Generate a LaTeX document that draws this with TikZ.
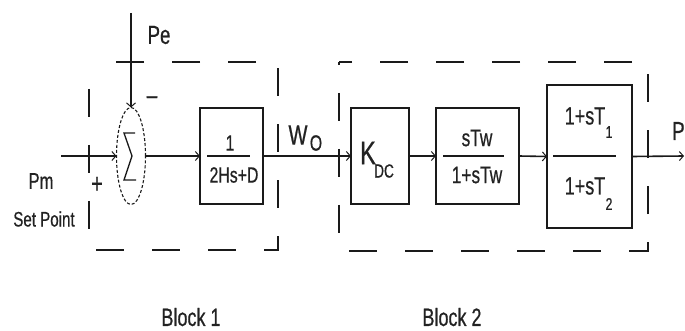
\documentclass[tikz,border=0pt]{standalone}
\usepackage{fontspec}
\setmainfont{Liberation Sans}[FakeStretch=0.72,FakeBold=0.6]
\usetikzlibrary{arrows.meta,shapes.geometric}
\definecolor{ink}{HTML}{1A1A1A}
\definecolor{txt}{HTML}{222222}
\newcommand{\fs}[1]{\fontsize{#1}{#1}\selectfont}
\tikzset{
 blk/.style={draw=ink,line width=1.7pt,inner sep=0pt,outer sep=0pt,rectangle},
 arr/.style={draw=ink,line width=1.6pt,-{Straight Barb[length=4pt,width=9pt,line width=1pt]}},
 fracbar/.style={draw=ink,line width=1.6pt},
 dbox/.style={draw=ink,line width=1.8pt,dash pattern=on 28pt off 28pt},
 lbl/.style={text=txt,inner sep=0pt},
}
\begin{document}
\begin{tikzpicture}[x=1pt,y=-1pt]
\useasboundingbox (0,0) rectangle (685,331);
% dashed frames
\draw[dbox,dash phase=29pt] (89,62) rectangle (278,250);
\draw[dbox,dash phase=25pt] (339,62) rectangle (648,251);
% summing junction
\node[draw=ink,densely dashed,line width=1.1pt,ellipse,minimum width=29pt,minimum height=97pt,inner sep=0pt,outer sep=0pt] (sum) at (131,156) {};
\draw[ink,line width=1.3pt] (135,133)--(124,133)--(132,156)--(124,180)--(136,180);
% blocks
\node[blk,minimum width=63pt,minimum height=96pt] (b1) at (231.5,156) {};
\node[blk,minimum width=58pt,minimum height=96pt] (kdc) at (380,156) {};
\node[blk,minimum width=83pt,minimum height=96pt] (stw) at (477.5,156) {};
\node[blk,minimum width=85pt,minimum height=143pt] (ll) at (589.5,156.5) {};
% block texts
\node[lbl,font=\fs{22}] (b1n) at (230,143) {1};
\node[lbl,font=\fs{22}] (b1d) at (234,175) {2Hs+D};
\draw[fracbar] (207,156) -- (250,156);
\node[lbl,font=\fs{33}] (kk) at (368,153) {K};
\node[lbl,font=\fs{19}] (kdcsub) at (384,171) {DC};
\node[lbl,font=\fs{24}] (stwn) at (477,138) {sTw};
\node[lbl,font=\fs{24}] (stwd) at (477,175) {1+sTw};
\draw[fracbar] (443,156) -- (504,156);
\node[lbl,font=\fs{25}] (lln) at (585,116) {1+sT};
\node[lbl,font=\fs{17}] (lln1) at (609,132) {1};
\node[lbl,font=\fs{25}] (lld) at (585,186) {1+sT};
\node[lbl,font=\fs{17}] (lld2) at (609,204) {2};
\draw[fracbar] (553,156) -- (616,156);
% connectors
\coordinate (pin) at (61,156);
\coordinate (petop) at (131,13);
\coordinate (pout) at (684,156);
\draw[arr] (petop) -- (sum.north);
\draw[arr] (pin) -- (sum.west);
\draw[arr] (sum.east) -- (b1.west);
\draw[arr] (b1.east) -- (kdc.west);
\draw[arr] (kdc.east) -- (stw.west);
\draw[arr] (stw.east) -- (ll.west);
\draw[arr] (ll.east) -- (pout);
% labels
\node[lbl,font=\fs{26}] (pe) at (159,35) {Pe};
\node[lbl,font=\fs{26}] (minus) at (152,100) {–};
\node[lbl,font=\fs{28}] (plus) at (97,185) {+};
\node[lbl,font=\fs{23}] (pm) at (41,181) {Pm};
\node[lbl,font=\fs{21}] (sp) at (44,219) {Set Point};
\node[lbl,font=\fs{28}] (wo) at (298,135) {W};
\node[lbl,font=\fs{22}] (wosub) at (316,143) {O};
\node[lbl,font=\fs{26},anchor=west] (pouttxt) at (672,131) {P};
\node[lbl,font=\fs{25}] (blk1) at (191,317) {Block 1};
\node[lbl,font=\fs{25}] (blk2) at (452,317) {Block 2};
\end{tikzpicture}
\end{document}
